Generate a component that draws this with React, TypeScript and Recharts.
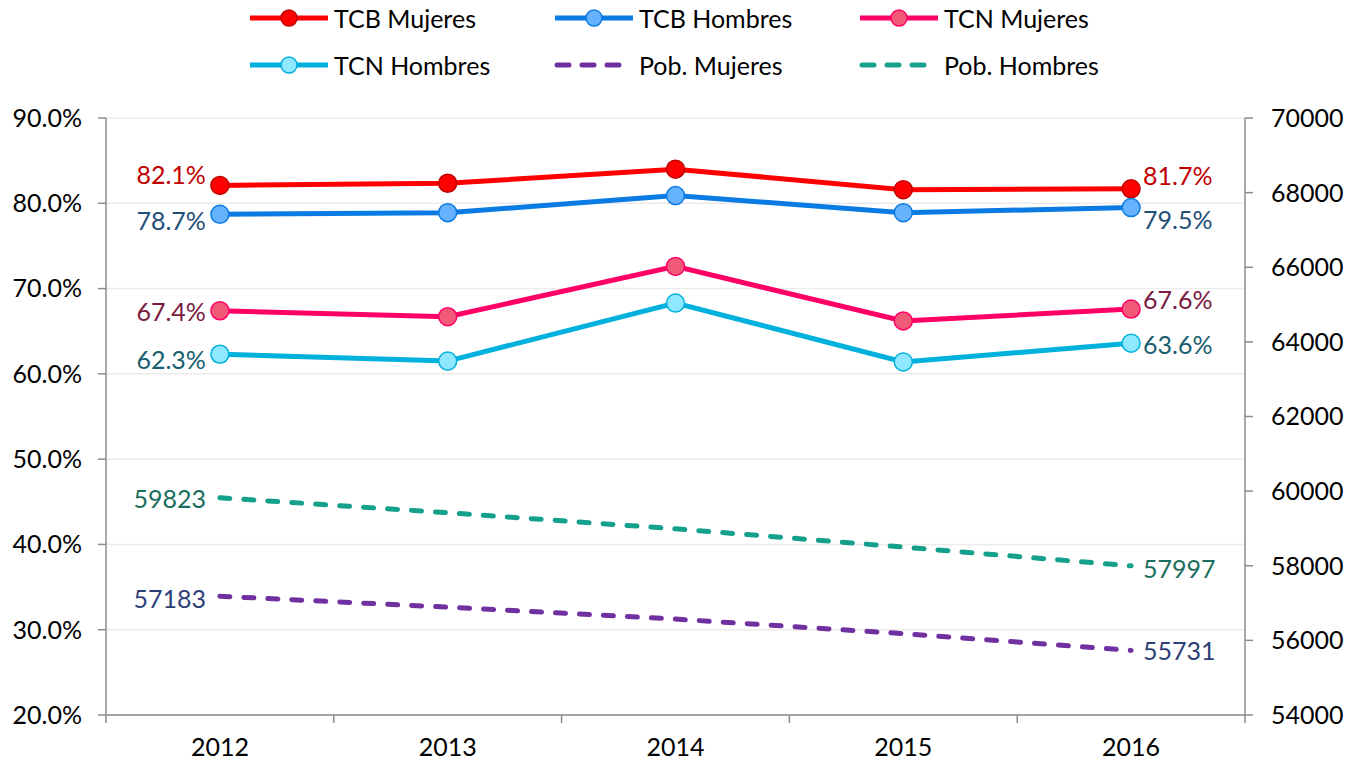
import React from 'react';
import { LineChart, Line, XAxis, YAxis, CartesianGrid } from 'recharts';

// Chart values
const years = ['2012', '2013', '2014', '2015', '2016'];
const tcbMujeres = [82.1, 82.35, 84.0, 81.6, 81.7];
const tcbHombres = [78.7, 78.9, 80.9, 78.9, 79.5];
const tcnMujeres = [67.4, 66.7, 72.6, 66.2, 67.6];
const tcnHombres = [62.3, 61.5, 68.3, 61.4, 63.6];
const pobMujeres = [57183, 56890, 56570, 56180, 55731];
const pobHombres = [59823, 59420, 58990, 58500, 57997];
const leftTicks = [20, 30, 40, 50, 60, 70, 80, 90];
const rightTicks = [54000, 56000, 58000, 60000, 62000, 64000, 66000, 68000, 70000];

const FONT = 'Lato, "Noto Sans", sans-serif';
const FS = 25;
const W = 1346;
const H = 763;
const PLOT_LEFT = 106;
const PLOT_RIGHT = 1245;
const BAND = (PLOT_RIGHT - PLOT_LEFT) / years.length;

const data = years.map((year, i) => ({
  year,
  tcbM: tcbMujeres[i],
  tcbH: tcbHombres[i],
  tcnM: tcnMujeres[i],
  tcnH: tcnHombres[i],
  pobM: pobMujeres[i],
  pobH: pobHombres[i],
}));

interface SeriesDef {
  key: string;
  name: string;
  axis: 'left' | 'right';
  color: string;
  markerFill?: string;
  markerStroke?: string;
  dashed?: boolean;
  labelColor: string;
  dyFirst: number;
  dyLast: number;
  pct: boolean;
}

const series: SeriesDef[] = [
  { key: 'tcbM', name: 'TCB Mujeres', axis: 'left', color: '#FF0000', markerFill: '#FF0000', markerStroke: '#C00000', labelColor: '#C00000', dyFirst: -11, dyLast: -14, pct: true },
  { key: 'tcbH', name: 'TCB Hombres', axis: 'left', color: '#0A7BE3', markerFill: '#66B2FF', markerStroke: '#0A7BE3', labelColor: '#1F4E79', dyFirst: 6, dyLast: 11, pct: true },
  { key: 'tcnM', name: 'TCN Mujeres', axis: 'left', color: '#FF0066', markerFill: '#F05A78', markerStroke: '#FF0066', labelColor: '#7A1A40', dyFirst: 0, dyLast: -10, pct: true },
  { key: 'tcnH', name: 'TCN Hombres', axis: 'left', color: '#00B0DD', markerFill: '#8FE8FF', markerStroke: '#00B0DD', labelColor: '#185E70', dyFirst: 5, dyLast: 1, pct: true },
  { key: 'pobM', name: 'Pob. Mujeres', axis: 'right', color: '#7030A0', dashed: true, labelColor: '#2E3F78', dyFirst: 2, dyLast: 0, pct: false },
  { key: 'pobH', name: 'Pob. Hombres', axis: 'right', color: '#14A08A', dashed: true, labelColor: '#1B6E5C', dyFirst: 0, dyLast: 2, pct: false },
];

const makeLabel = (s: SeriesDef) => (props: any) => {
  const { x, y, value, index } = props;
  if (index !== 0 && index !== years.length - 1) return null;
  const first = index === 0;
  const text = s.pct ? `${Number(value).toFixed(1)}%` : `${value}`;
  return (
    <text
      x={first ? x - 14 : x + 12}
      y={y + (first ? s.dyFirst : s.dyLast)}
      textAnchor={first ? 'end' : 'start'}
      dominantBaseline="central"
      fill={s.labelColor}
      fontSize={FS}
      fontFamily={FONT}
    >
      {text}
    </text>
  );
};

// category label in the middle, tick marks on the band edges
const YearTick = (props: any) => {
  const { x, y, payload, index } = props;
  const top = y - 8;
  return (
    <g>
      <line x1={x - BAND / 2} y1={top} x2={x - BAND / 2} y2={top + 8} stroke="#8c8c8c" strokeWidth={1.5} />
      {index === years.length - 1 && (
        <line x1={x + BAND / 2} y1={top} x2={x + BAND / 2} y2={top + 8} stroke="#8c8c8c" strokeWidth={1.5} />
      )}
      <text x={x} y={top + 31} textAnchor="middle" dominantBaseline="central" fontSize={FS} fontFamily={FONT} fill="#000">
        {payload.value}
      </text>
    </g>
  );
};

const LegendIcon = ({ s }: { s: SeriesDef }) => (
  <svg width={84} height={24} style={{ display: 'block' }}>
    {s.dashed ? (
      <line x1={4} y1={12} x2={76} y2={12} stroke={s.color} strokeWidth={5} strokeDasharray="12 13" strokeLinecap="round" />
    ) : (
      <>
        <line x1={2} y1={12} x2={80} y2={12} stroke={s.color} strokeWidth={5} />
        <circle cx={41} cy={12} r={8} fill={s.markerFill} stroke={s.markerStroke} strokeWidth={1.5} />
      </>
    )}
  </svg>
);

const LegendBlock = () => (
  <div
    style={{
      position: 'absolute',
      left: 248,
      top: 4,
      width: 920,
      display: 'grid',
      gridTemplateColumns: '305px 305px 305px',
      rowGap: 19,
      fontFamily: FONT,
      fontSize: FS,
    }}
  >
    {series.map((s) => (
      <div key={s.key} style={{ display: 'flex', alignItems: 'center', height: 28, whiteSpace: 'nowrap' }}>
        <LegendIcon s={s} />
        <span style={{ marginLeft: 2, color: '#000' }}>{s.name}</span>
      </div>
    ))}
  </div>
);

export default function App() {
  return (
    <div style={{ position: 'absolute', left: 0, top: 0, width: W, height: H, background: '#fff' }}>
      <LegendBlock />
      <LineChart width={W} height={H} data={data} margin={{ top: 118, right: 0, bottom: 0, left: 0 }}>
        <CartesianGrid yAxisId="left" vertical={false} stroke="#ebebeb" strokeWidth={1.5} />
        <XAxis
          dataKey="year"
          height={48}
          padding={{ left: BAND / 2, right: BAND / 2 }}
          tickLine={false}
          axisLine={{ stroke: '#8c8c8c', strokeWidth: 1.5 }}
          tick={<YearTick />}
          interval={0}
        />
        <YAxis
          yAxisId="left"
          width={PLOT_LEFT}
          domain={[20, 90]}
          ticks={leftTicks}
          tickFormatter={(v: number) => `${v.toFixed(1)}%`}
          tickSize={8}
          tickMargin={16}
          tickLine={{ stroke: '#8c8c8c', strokeWidth: 1.5 }}
          axisLine={{ stroke: '#8c8c8c', strokeWidth: 1.5 }}
          tick={{ fontSize: FS, fontFamily: FONT, fill: '#000' }}
          interval={0}
        />
        <YAxis
          yAxisId="right"
          orientation="right"
          width={W - PLOT_RIGHT}
          domain={[54000, 70000]}
          ticks={rightTicks}
          tickSize={8}
          tickMargin={18}
          tickLine={{ stroke: '#8c8c8c', strokeWidth: 1.5 }}
          axisLine={{ stroke: '#8c8c8c', strokeWidth: 1.5 }}
          tick={{ fontSize: FS, fontFamily: FONT, fill: '#000', textAnchor: 'start' }}
          interval={0}
        />
        {series.map((s) => (
          <Line
            key={s.key}
            yAxisId={s.axis}
            dataKey={s.key}
            name={s.name}
            type="linear"
            stroke={s.color}
            strokeWidth={5}
            strokeDasharray={s.dashed ? '10 14' : undefined}
            strokeLinecap="round"
            dot={s.dashed ? false : { r: 9, fill: s.markerFill, stroke: s.markerStroke, strokeWidth: 1.5 }}
            activeDot={false}
            label={makeLabel(s)}
            isAnimationActive={false}
          />
        ))}
      </LineChart>
    </div>
  );
}
